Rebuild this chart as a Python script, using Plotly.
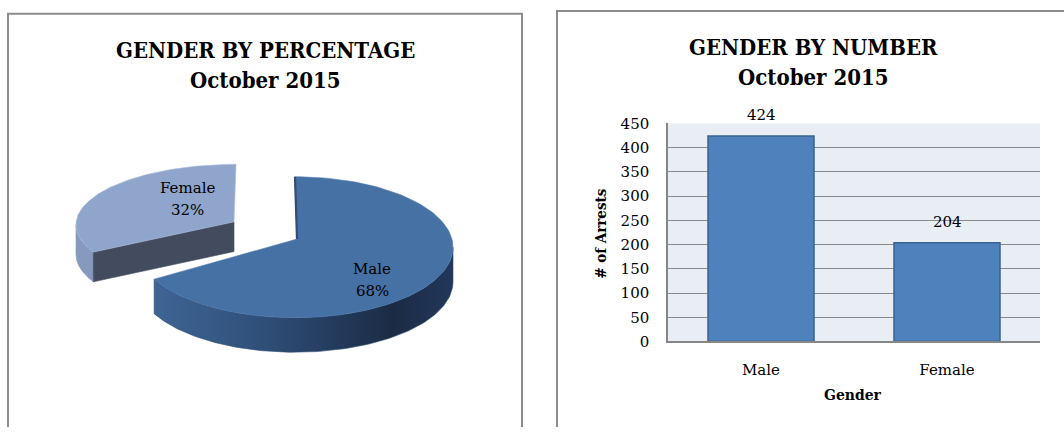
import numpy as np
import plotly.graph_objects as go

# ---------------- data ----------------
categories = ["Male", "Female"]
arrests = [424, 204]
pie_title = ["GENDER BY PERCENTAGE", "October 2015"]
bar_title = ["GENDER BY NUMBER", "October 2015"]
y_ticks = [0, 50, 100, 150, 200, 250, 300, 350, 400, 450]

W, H = 1064, 436
SERIF = "DejaVu Serif"
SERIF_C = "DejaVu Serif Condensed"

fig = go.Figure()

# ---------------- 3D pie (drawn on pixel-scaled axes) ----------------
total = sum(arrests)
shares = [v / total for v in arrests]
pcts = [round(s * 100) for s in shares]
# slice angles, clockwise from 12 o'clock (degrees)
starts, ends = [], []
acc = 0.0
for s in shares:
    starts.append(acc * 360)
    acc += s
    ends.append(acc * 360)

# geometry (layout) for each slice: ellipse centre, radii, wedge apex, thickness
geo = {
    "Male":   dict(cx=295, cy=248.5, rx=158, ry=73.5, vx=297, vy=240, d=36),
    "Female": dict(cx=236, cy=225, rx=160, ry=63, vx=234, vy=222, d=31),
}


def arc(g, t0, t1, dy=0.0, n=120):
    t = np.radians(np.linspace(t0, t1, n))
    return g["cx"] + g["rx"] * np.sin(t), g["cy"] - g["ry"] * np.cos(t) + dy


def side(g, t0, t1):
    xa, ya = arc(g, t0, t1)
    xb, yb = arc(g, t1, t0, dy=g["d"])
    return np.r_[xa, xb, xa[0]], np.r_[ya, yb, ya[0]]


def top(g, t0, t1):
    xa, ya = arc(g, t0, t1)
    return np.r_[g["vx"], xa, g["vx"]], np.r_[g["vy"], ya, g["vy"]]


def poly(x, y, color, lc=None, grad=None):
    kw = dict(x=x, y=y, mode="lines", fill="toself", fillcolor=color,
              line=dict(color=lc or color, width=0.6),
              hoverinfo="skip", showlegend=False, xaxis="x", yaxis="y")
    if grad is not None:
        kw["fillgradient"] = grad
    fig.add_trace(go.Scatter(**kw))


# Female (exploded, behind)
gf = geo["Female"]
fs, fe = starts[1], ends[1]
xs, ys = side(gf, fs, max(fs, 270))
poly(xs, ys, "#8799BE")
xa0, ya0 = arc(gf, fs, fs, n=1)
cut_x = [gf["vx"], xa0[0], xa0[0], gf["vx"], gf["vx"]]
cut_y = [gf["vy"], ya0[0], ya0[0] + gf["d"], gf["vy"] + gf["d"], gf["vy"]]
poly(cut_x, cut_y, "#434C5E")
xt, yt = top(gf, fs, fe)
poly(xt, yt, "#8FA5CC", lc="#A9BBDA")

# Male
gm = geo["Male"]
ms, me = starts[0], ends[0]
xs, ys = side(gm, 90, me)
poly(xs, ys, "#2B4A70", grad=dict(
    type="horizontal",
    colorscale=[[0, "#3F6595"], [0.35, "#30507A"], [0.8, "#1B2B45"], [1, "#22375A"]]))
xt, yt = top(gm, ms, me)
poly(xt, yt, "#4671A5", lc="#4F7BB0")
# thin shaded edge of the Male cut at 12 o'clock
xe, ye = arc(gm, ms, ms, n=1)
fig.add_trace(go.Scatter(x=[xe[0], gm["vx"]], y=[ye[0], gm["vy"]], mode="lines",
                         line=dict(color="#2F4D75", width=2.2), hoverinfo="skip",
                         showlegend=False, xaxis="x", yaxis="y"))

# ---------------- bar chart ----------------
fig.add_trace(go.Bar(
    x=categories, y=arrests, xaxis="x2", yaxis="y2",
    marker=dict(color="#4F81BD", line=dict(color="#3A6291", width=1.5)),
    width=0.57, hoverinfo="skip", showlegend=False,
))

annotations = []
for c, v in zip(categories, arrests):
    annotations.append(dict(x=c, y=v, xref="x2", yref="y2", text=str(v),
                            showarrow=False, xanchor="center", yanchor="bottom", yshift=10,
                            font=dict(family=SERIF, size=15, color="#000")))

# pie labels
for name, p, (lx, ly) in zip(categories, pcts, [(372, 271), (187, 187)]):
    annotations.append(dict(x=lx, y=ly, xref="x", yref="y", text=name, showarrow=False,
                            xanchor="center", yanchor="middle",
                            font=dict(family=SERIF, size=15, color="#000")))
    annotations.append(dict(x=lx, y=ly + 23, xref="x", yref="y", text=f"{p}%", showarrow=False,
                            xanchor="center", yanchor="middle",
                            font=dict(family=SERIF, size=15, color="#000")))

# titles
for lines, cx, cy in [(pie_title, 265, 43), (bar_title, 813, 40)]:
    for i, t in enumerate(lines):
        annotations.append(dict(x=cx / W, y=1 - (cy + 31 * i) / H,
                                xref="paper", yref="paper", text=f"<b>{t}</b>",
                                showarrow=False, xanchor="center", yanchor="middle",
                                font=dict(family=SERIF_C, size=22, color="#000")))

# axis titles
annotations.append(dict(x=601.5 / W, y=1 - 234 / H, xref="paper", yref="paper",
                        text="<b># of Arrests</b>", textangle=-90, showarrow=False,
                        xanchor="center", yanchor="middle",
                        font=dict(family=SERIF_C, size=15, color="#000")))
annotations.append(dict(x=853 / W, y=1 - 402 / H, xref="paper", yref="paper",
                        text="<b>Gender</b>", showarrow=False,
                        xanchor="center", yanchor="middle",
                        font=dict(family=SERIF_C, size=15.5, color="#000")))

px0, px1 = 668, 1040
py_top, py_bot = 119.4, 346.8


def frame_path(x0, x1, ytop):
    a, b, t = x0 / W, x1 / W, 1 - ytop / H
    if x1 >= W:
        return f"M {a},0 L {a},{t} L 1,{t}"
    return f"M {a},0 L {a},{t} L {b},{t} L {b},0"


shapes = [
    # panel frames (open at the bottom / right edge of the picture)
    dict(type="path", xref="paper", yref="paper", path=frame_path(8, 522, 5),
         line=dict(color="#8C8C8C", width=2), layer="below"),
    dict(type="path", xref="paper", yref="paper", path=frame_path(557, W, 2),
         line=dict(color="#8C8C8C", width=2), layer="below"),
    # bar plot area background
    dict(type="rect", xref="x2 domain", yref="y2 domain", x0=0, x1=1, y0=0, y1=1,
         fillcolor="#E9EDF4", line=dict(width=0), layer="below"),
]

fig.update_layout(
    width=W, height=H,
    margin=dict(l=0, r=0, t=0, b=0),
    paper_bgcolor="white", plot_bgcolor="rgba(0,0,0,0)",
    showlegend=False,
    xaxis=dict(domain=[0, 0.5], range=[0, W / 2], visible=False, fixedrange=True),
    yaxis=dict(domain=[0, 1], range=[H, 0], visible=False, fixedrange=True),
    xaxis2=dict(domain=[px0 / W, px1 / W], anchor="y2", range=[-0.5, 1.5],
                showgrid=False, showline=True, linecolor="#868686", linewidth=1.5,
                ticks="", ticklabelstandoff=14,
                tickfont=dict(family=SERIF, size=15, color="#000")),
    yaxis2=dict(domain=[1 - py_bot / H, 1 - py_top / H], anchor="x2", range=[0, 450],
                tickvals=y_ticks, ticktext=[str(t) for t in y_ticks],
                showgrid=True, gridcolor="#8A8A8A", gridwidth=1.3,
                showline=True, linecolor="#868686", linewidth=1.5, zeroline=False,
                ticks="", ticklabelstandoff=14,
                tickfont=dict(family=SERIF, size=15, color="#000")),
    annotations=annotations,
    shapes=shapes,
)

fig.write_html(
    "out.html",
    config={"displayModeBar": False},
    post_script="document.body.style.margin='0';document.body.style.overflow='hidden';",
)
